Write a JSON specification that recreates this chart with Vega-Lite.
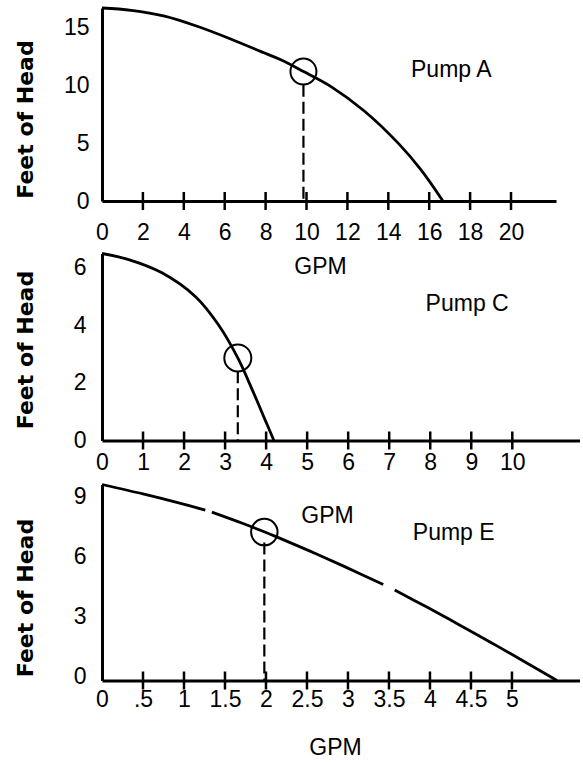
{
  "$schema": "https://vega.github.io/schema/vega-lite/v6.json",
  "background": "white",
  "padding": {"left": 14, "top": 2, "right": 0, "bottom": 5},
  "config": {
    "view": {"stroke": null},
    "axis": {"domainColor": "black", "domainWidth": 3, "ticks": false, "tickSize": 0, "grid": false, "labelFont": "Liberation Sans", "labelFontSize": 23, "labelColor": "black", "labelFlush": false, "labelOverlap": false, "labelAngle": 0, "titleColor": "black", "titleFont": "Liberation Sans", "titleFontSize": 23, "titleFontWeight": "normal"},
    "axisY": {"titleFont": "DejaVu Sans", "titleFontWeight": "bold", "titleFontSize": 22, "titleAngle": 270, "titleBaseline": "alphabetic", "titleAlign": "center", "titleX": -70},
    "axisX": {"titleBaseline": "alphabetic", "titleAlign": "center"},
    "line": {"color": "black", "strokeWidth": 2.8, "interpolate": "catmull-rom"},
    "text": {"font": "Liberation Sans", "fontSize": 23, "color": "black"}
  },
  "datasets": {
    "curveA": [{"gpm": 0, "head": 16.7}, {"gpm": 1.43, "head": 16.5}, {"gpm": 3.06, "head": 16.0}, {"gpm": 4.69, "head": 15.1}, {"gpm": 6.32, "head": 14.0}, {"gpm": 7.95, "head": 12.8}, {"gpm": 8.77, "head": 12.2}, {"gpm": 9.86, "head": 11.2}, {"gpm": 11.2, "head": 9.9}, {"gpm": 12.84, "head": 7.77}, {"gpm": 14.47, "head": 5.03}, {"gpm": 15.6, "head": 2.7}, {"gpm": 16.67, "head": 0}],
    "ticksA": [{"gpm": 2}, {"gpm": 4}, {"gpm": 6}, {"gpm": 8}, {"gpm": 10}, {"gpm": 12}, {"gpm": 14}, {"gpm": 16}, {"gpm": 18}, {"gpm": 20}],
    "opA": [{"gpm": 9.85, "head": 11.2, "dash": 10.05}],
    "labelA": [{"gpm": 17.08, "head": 11.37, "pump": "Pump A"}],
    "curveC": [{"gpm": 0, "head": 6.5}, {"gpm": 0.65, "head": 6.29}, {"gpm": 1.46, "head": 5.83}, {"gpm": 2.28, "head": 5.0}, {"gpm": 2.85, "head": 4.0}, {"gpm": 3.31, "head": 2.87}, {"gpm": 3.66, "head": 1.77}, {"gpm": 3.98, "head": 0.7}, {"gpm": 4.19, "head": 0}],
    "ticksC": [{"gpm": 1}, {"gpm": 2}, {"gpm": 3}, {"gpm": 4}, {"gpm": 5}, {"gpm": 6}, {"gpm": 7}, {"gpm": 8}, {"gpm": 9}, {"gpm": 10}],
    "opC": [{"gpm": 3.31, "head": 2.87, "dash": 2.41}],
    "labelC": [{"gpm": 8.9, "head": 4.73, "pump": "Pump C"}],
    "curveE": [{"gpm": 0, "head": 9.8, "seg": 1}, {"gpm": 0.5, "head": 9.33, "seg": 1}, {"gpm": 0.9, "head": 8.92, "seg": 1}, {"gpm": 1.26, "head": 8.52, "seg": 1}, {"gpm": 1.34, "head": 8.42, "seg": 2}, {"gpm": 1.72, "head": 7.85, "seg": 2}, {"gpm": 1.97, "head": 7.45, "seg": 2}, {"gpm": 2.13, "head": 7.18, "seg": 2}, {"gpm": 2.53, "head": 6.48, "seg": 2}, {"gpm": 2.94, "head": 5.73, "seg": 2}, {"gpm": 3.43, "head": 4.8, "seg": 2}, {"gpm": 3.57, "head": 4.52, "seg": 3}, {"gpm": 3.95, "head": 3.7, "seg": 3}, {"gpm": 4.36, "head": 2.78, "seg": 3}, {"gpm": 4.77, "head": 1.84, "seg": 3}, {"gpm": 5.17, "head": 0.9, "seg": 3}, {"gpm": 5.55, "head": 0, "seg": 3}],
    "ticksE": [{"gpm": 0.5}, {"gpm": 1}, {"gpm": 1.5}, {"gpm": 2}, {"gpm": 2.5}, {"gpm": 3}, {"gpm": 3.5}, {"gpm": 4}, {"gpm": 4.5}, {"gpm": 5}],
    "opE": [{"gpm": 1.98, "head": 7.42, "dash": 6.9}],
    "labelE": [{"gpm": 4.29, "head": 7.4, "pump": "Pump E"}]
  },
  "bounds": "flush",
  "spacing": 52.5,
  "vconcat": [
    {
      "width": 454, "height": 193,
      "layer": [
        {"data": {"name": "curveA"}, "mark": {"type": "line"}, "encoding": {
          "x": {"field": "gpm", "type": "quantitative", "scale": {"domain": [0, 22.2], "nice": false}, "axis": {"title": "GPM", "values": [0, 2, 4, 6, 8, 10, 12, 14, 16, 18, 20], "labelPadding": 20, "titleX": 218, "titleY": 72.5}},
          "y": {"field": "head", "type": "quantitative", "scale": {"domain": [0, 16.7], "nice": false}, "axis": {"title": "Feet of Head", "values": [0, 5, 10, 15], "labelPadding": 13, "titleY": 111}}}},
        {"data": {"name": "ticksA"}, "mark": {"type": "tick", "orient": "vertical", "size": 18, "thickness": 2.5, "color": "black", "opacity": 1}, "encoding": {"x": {"field": "gpm", "type": "quantitative"}, "y": {"datum": 0}}},
        {"data": {"name": "opA"}, "mark": {"type": "point", "shape": "circle", "filled": false, "size": 676, "strokeWidth": 2, "color": "black", "opacity": 1}, "encoding": {"x": {"field": "gpm", "type": "quantitative"}, "y": {"field": "head", "type": "quantitative"}}},
        {"data": {"name": "opA"}, "mark": {"type": "rule", "strokeDash": [12, 5], "strokeWidth": 2.2, "color": "black"}, "encoding": {"x": {"field": "gpm", "type": "quantitative"}, "y": {"field": "dash", "type": "quantitative"}, "y2": {"datum": 0}}},
        {"data": {"name": "labelA"}, "mark": {"type": "text", "align": "center", "baseline": "middle"}, "encoding": {"x": {"field": "gpm", "type": "quantitative"}, "y": {"field": "head", "type": "quantitative"}, "text": {"field": "pump"}}}
      ]
    },
    {
      "bounds": "flush",
      "spacing": 44,
      "vconcat": [
        {
          "width": 478, "height": 187,
          "layer": [
            {"data": {"name": "curveC"}, "mark": {"type": "line"}, "encoding": {
              "x": {"field": "gpm", "type": "quantitative", "scale": {"domain": [0, 11.65], "nice": false}, "axis": {"title": "GPM", "values": [0, 1, 2, 3, 4, 5, 6, 7, 8, 9, 10], "labelPadding": 11, "titleX": 225, "titleY": 82}},
              "y": {"field": "head", "type": "quantitative", "scale": {"domain": [0, 6.5], "nice": false}, "axis": {"title": "Feet of Head", "values": [0, 2, 4, 6], "labelPadding": 16, "titleY": 96}}}},
            {"data": {"name": "ticksC"}, "mark": {"type": "tick", "orient": "vertical", "size": 18, "thickness": 2.5, "color": "black", "opacity": 1}, "encoding": {"x": {"field": "gpm", "type": "quantitative"}, "y": {"datum": 0}}},
            {"data": {"name": "opC"}, "mark": {"type": "point", "shape": "circle", "filled": false, "size": 729, "strokeWidth": 2, "color": "black", "opacity": 1}, "encoding": {"x": {"field": "gpm", "type": "quantitative"}, "y": {"field": "head", "type": "quantitative"}}},
            {"data": {"name": "opC"}, "mark": {"type": "rule", "strokeDash": [12, 5], "strokeWidth": 2.2, "color": "black"}, "encoding": {"x": {"field": "gpm", "type": "quantitative"}, "y": {"field": "dash", "type": "quantitative"}, "y2": {"datum": 0}}},
            {"data": {"name": "labelC"}, "mark": {"type": "text", "align": "center", "baseline": "middle"}, "encoding": {"x": {"field": "gpm", "type": "quantitative"}, "y": {"field": "head", "type": "quantitative"}, "text": {"field": "pump"}}}
          ]
        },
        {
          "width": 478, "height": 196,
          "layer": [
            {"data": {"name": "curveE"}, "mark": {"type": "line"}, "encoding": {
              "x": {"field": "gpm", "type": "quantitative", "scale": {"domain": [0, 5.83], "nice": false}, "axis": {"title": "GPM", "values": [0, 0.5, 1, 1.5, 2, 2.5, 3, 3.5, 4, 4.5, 5], "labelExpr": "datum.value == 0.5 ? '.5' : toString(datum.value)", "labelPadding": 8, "titleX": 233, "titleY": 74}},
              "y": {"field": "head", "type": "quantitative", "scale": {"domain": [0, 9.8], "nice": false}, "axis": {"title": "Feet of Head", "values": [0, 3, 6, 9], "labelPadding": 16, "labelOffset": -4, "titleY": 113}},
              "detail": {"field": "seg", "type": "nominal"}}},
            {"data": {"name": "ticksE"}, "mark": {"type": "tick", "orient": "vertical", "size": 18, "thickness": 2.5, "color": "black", "opacity": 1}, "encoding": {"x": {"field": "gpm", "type": "quantitative"}, "y": {"datum": 0}}},
            {"data": {"name": "opE"}, "mark": {"type": "point", "shape": "circle", "filled": false, "size": 700, "strokeWidth": 2, "color": "black", "opacity": 1}, "encoding": {"x": {"field": "gpm", "type": "quantitative"}, "y": {"field": "head", "type": "quantitative"}}},
            {"data": {"name": "opE"}, "mark": {"type": "rule", "strokeDash": [12, 5], "strokeWidth": 2.2, "color": "black"}, "encoding": {"x": {"field": "gpm", "type": "quantitative"}, "y": {"field": "dash", "type": "quantitative"}, "y2": {"datum": 0}}},
            {"data": {"name": "labelE"}, "mark": {"type": "text", "align": "center", "baseline": "middle"}, "encoding": {"x": {"field": "gpm", "type": "quantitative"}, "y": {"field": "head", "type": "quantitative"}, "text": {"field": "pump"}}}
          ]
        }
      ]
    }
  ]
}
